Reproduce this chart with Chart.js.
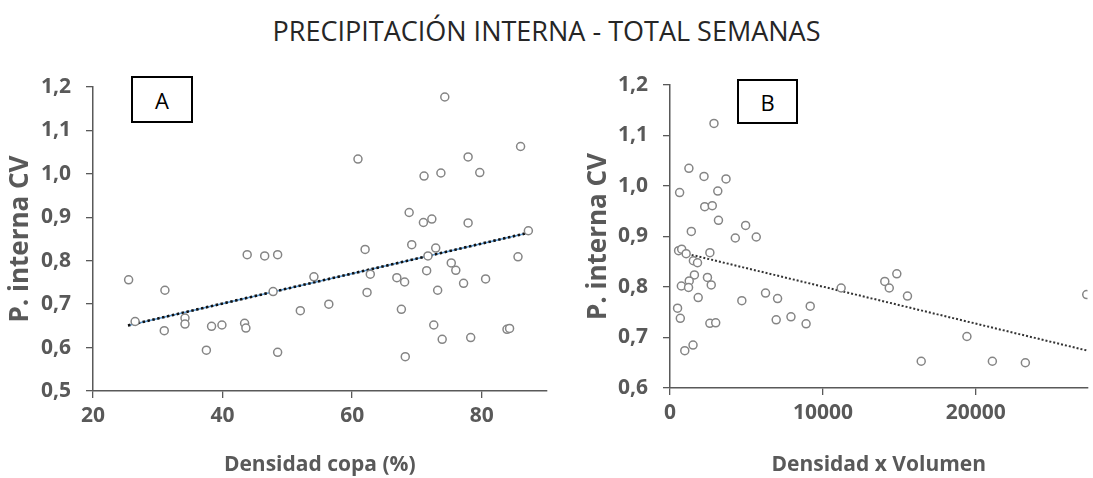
<!DOCTYPE html>
<html>
<head>
<meta charset="utf-8">
<script src="https://cdn.jsdelivr.net/npm/chart.js@4"></script>
<style>
  body { margin: 0; background: #fff; }
  #page { position: relative; width: 1093px; height: 478px; overflow: hidden; font-family: "Open Sans", sans-serif; }
  #title { position: absolute; left: 0; top: 12px; width: 1093px; text-align: center; font-size: 27px; color: #262626; line-height: 38px; }
  .panel { position: absolute; top: 0; height: 478px; }
  .tag { position: absolute; border: 2px solid #000; box-sizing: border-box; font-size: 22px; color: #000;
         display: flex; align-items: center; justify-content: center; background: #fff; }
</style>
</head>
<body>
<div id="page">
  <div id="title">PRECIPITACIÓN INTERNA - TOTAL SEMANAS</div>
  <div class="panel" style="left:0;width:552px"><canvas id="chart-a"></canvas></div>
  <div class="panel" style="left:550px;width:543px"><canvas id="chart-b"></canvas></div>
  <div class="tag" style="left:131px;top:76px;width:62px;height:47px">A</div>
  <div class="tag" style="left:737px;top:79px;width:61px;height:45px">B</div>
</div>
<script>
// panel A: densidad de copa (%) vs P. interna CV
const densCopa = [25.5, 26.5, 31.1, 31.0, 34.2, 34.2, 37.5, 38.3, 39.9, 43.8, 43.4, 43.6, 46.5, 48.5, 47.8,
  48.5, 52.0, 54.1, 56.4, 60.9, 62.0, 62.3, 62.8, 66.9, 68.1, 67.6, 68.2, 68.8, 69.2, 71.1, 71.0, 72.3,
  71.5, 71.7, 72.9, 72.6, 73.2, 73.7, 74.3, 73.9, 75.3, 76.0, 77.2, 77.9, 77.9, 78.3, 79.7, 80.6, 83.9,
  84.3, 86.0, 85.6, 87.2];
const pInternaA = [0.756, 0.660, 0.732, 0.639, 0.668, 0.654, 0.594, 0.649, 0.652, 0.814, 0.656, 0.645, 0.811,
  0.814, 0.729, 0.589, 0.685, 0.763, 0.700, 1.034, 0.826, 0.727, 0.769, 0.761, 0.751, 0.688, 0.579, 0.911,
  0.837, 0.995, 0.888, 0.896, 0.777, 0.811, 0.829, 0.652, 0.732, 1.002, 1.177, 0.619, 0.795, 0.778, 0.748,
  1.039, 0.887, 0.623, 1.003, 0.758, 0.642, 0.644, 1.063, 0.809, 0.869];
const trendAx = [25.4, 87.1];
const trendAy = [0.651, 0.864];
const xTicksA = [20, 40, 60, 80];
const yTicksA = [0.5, 0.6, 0.7, 0.8, 0.9, 1.0, 1.1, 1.2];

// panel B: densidad x volumen vs P. interna CV
const densVol = [2876, 1236, 629, 2225, 3663, 3124, 2270, 2764, 3169, 1393, 4944, 4270, 5640, 562, 764, 1056,
  2607, 1528, 1798, 1596, 1258, 742, 1213, 2449, 2697, 1843, 4697, 6247, 7034, 6944, 7910, 8899, 9169, 494,
  674, 2607, 2989, 966, 1506, 11191, 14045, 14337, 14831, 15528, 16427, 19416, 21079, 23236, 27250];
const pInternaB = [1.124, 1.035, 0.987, 1.019, 1.014, 0.990, 0.959, 0.961, 0.932, 0.910, 0.922, 0.897, 0.899,
  0.872, 0.875, 0.866, 0.868, 0.852, 0.848, 0.824, 0.812, 0.802, 0.799, 0.819, 0.804, 0.779, 0.773, 0.788,
  0.777, 0.735, 0.741, 0.727, 0.762, 0.758, 0.738, 0.728, 0.729, 0.674, 0.685, 0.798, 0.811, 0.798, 0.826,
  0.782, 0.653, 0.702, 0.653, 0.650, 0.785];
const trendBx = [400, 27300];
const trendBy = [0.871, 0.674];
const xTicksB = [0, 10000, 20000];
const yTicksB = [0.6, 0.7, 0.8, 0.9, 1.0, 1.1, 1.2];

const axisGrey = '#595959';
const pts = (xs, ys) => xs.map((x, i) => ({ x, y: ys[i] }));
const comma = (v) => v.toFixed(1).replace('.', ',');

function makeChart(id, opt) {
  const scatter = {
    type: 'scatter',
    data: pts(opt.xs, opt.ys),
    pointRadius: 4,
    pointHoverRadius: 4,
    pointBorderWidth: 1.5,
    pointBorderColor: '#858585',
    pointBackgroundColor: '#fff',
    order: 0
  };
  const datasets = [scatter];
  if (opt.blueUnder) {
    datasets.push({
      type: 'line', data: pts(opt.tx, opt.ty), borderColor: '#5b9bd5', borderWidth: 1.5,
      pointRadius: 0, fill: false, order: 2
    });
  }
  datasets.push({
    type: 'line', data: pts(opt.tx, opt.ty), borderColor: opt.trendColor, borderWidth: opt.trendWidth,
    borderDash: opt.dash, pointRadius: 0, fill: false, order: 1
  });

  return new Chart(document.getElementById(id), {
    type: 'scatter',
    data: { datasets },
    options: {
      responsive: true,
      maintainAspectRatio: false,
      animation: false,
      events: [],
      layout: { padding: { top: opt.top, right: opt.right, bottom: 0, left: 0 } },
      plugins: { legend: { display: false }, tooltip: { enabled: false } },
      scales: {
        x: {
          type: 'linear', min: opt.xMin, max: opt.xMax,
          afterBuildTicks: (s) => { s.ticks = opt.xTicks.map((v) => ({ value: v })); },
          afterFit: (s) => { s.height = opt.xHeight; },
          grid: { drawOnChartArea: false, drawTicks: true, tickLength: 7, color: axisGrey, lineWidth: 1.3 },
          border: { color: axisGrey, width: 1.5 },
          ticks: { color: axisGrey, padding: 5, font: { family: 'Open Sans', size: 21, weight: 'bold' },
                   maxRotation: 0, callback: (v) => String(v) },
          title: { display: true, text: opt.xTitle, color: axisGrey, padding: { top: 0, bottom: 0 },
                   font: { family: 'Open Sans', size: 21, weight: 'bold' } }
        },
        y: {
          type: 'linear', min: opt.yMin, max: 1.2,
          afterBuildTicks: (s) => { s.ticks = opt.yTicks.map((v) => ({ value: v })); },
          afterFit: (s) => { s.width = opt.yWidth; },
          grid: { drawOnChartArea: false, drawTicks: true, tickLength: 7, color: axisGrey, lineWidth: 1.3 },
          border: { color: axisGrey, width: 1.5 },
          ticks: { color: axisGrey, padding: 15, font: { family: 'Open Sans', size: 21, weight: 'bold' },
                   callback: (v) => comma(v) },
          title: { display: true, text: 'P. interna CV', color: axisGrey, padding: { top: opt.yTitlePad, bottom: 0 },
                   font: { family: 'Open Sans', size: 26, weight: 'bold' } }
        }
      }
    }
  });
}

makeChart('chart-a', {
  xs: densCopa, ys: pInternaA, tx: trendAx, ty: trendAy, blueUnder: true,
  trendColor: '#111', trendWidth: 2.6, dash: [2.5, 2.5],
  xMin: 20, xMax: 90, xTicks: xTicksA, yMin: 0.5, yTicks: yTicksA,
  xTitle: 'Densidad copa (%)', top: 87, right: 2, xHeight: 87, yWidth: 93, yTitlePad: 5
});

makeChart('chart-b', {
  xs: densVol, ys: pInternaB, tx: trendBx, ty: trendBy, blueUnder: false,
  trendColor: '#333', trendWidth: 2, dash: [2, 2],
  xMin: 0, xMax: 27300, xTicks: xTicksB, yMin: 0.6, yTicks: yTicksB,
  xTitle: 'Densidad x Volumen', top: 85, right: 0, xHeight: 90, yWidth: 120, yTitlePad: 33
});
</script>
</body>
</html>
